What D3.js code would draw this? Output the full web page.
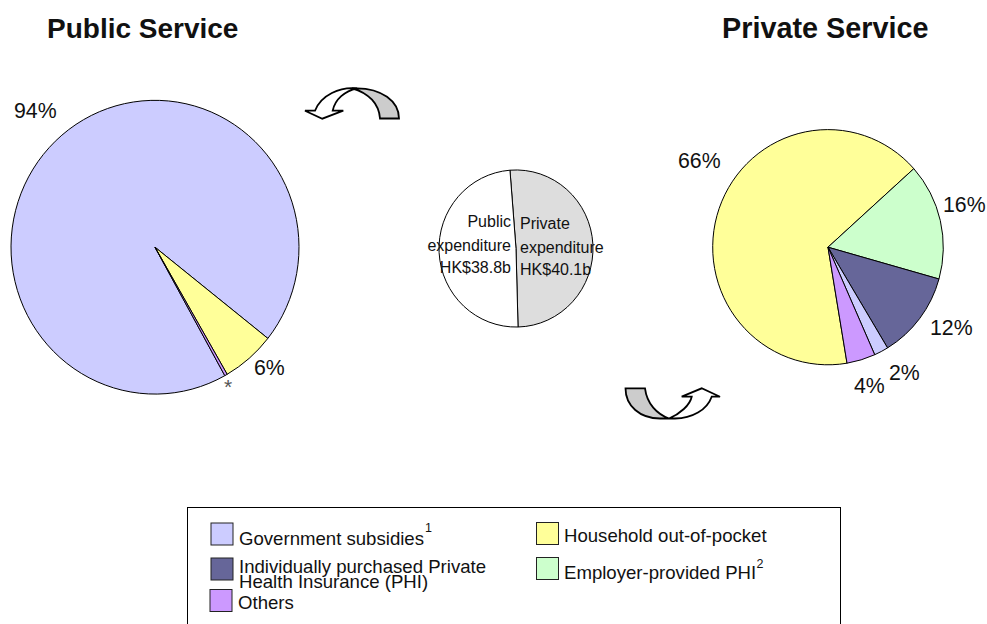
<!DOCTYPE html>
<html>
<head>
<meta charset="utf-8">
<script src="https://cdnjs.cloudflare.com/ajax/libs/d3/7.8.5/d3.min.js"></script>
<style>
html, body { margin: 0; padding: 0; background: #fff; overflow: hidden; }
text { font-family: "Liberation Sans", Arial, sans-serif; fill: #111; }
</style>
</head>
<body>
<svg id="chart" width="987" height="624"></svg>
<script>
// Financing shares (%) of each service sector
const publicCategories = ["Government subsidies", "Household out-of-pocket", "Others"];
const publicValues = [94, 6, 0.3];
const privateCategories = ["Household out-of-pocket", "Employer-provided PHI", "Individually purchased PHI", "Government subsidies", "Others"];
const privateValues = [66, 16, 12, 2, 4];

// Total health expenditure split, HK$ billion
const splitCategories = ["Private expenditure", "Public expenditure"];
const splitValues = [40.1, 38.8];

const colours = {
  "Government subsidies": "#ccccff",
  "Household out-of-pocket": "#ffff99",
  "Individually purchased PHI": "#666699",
  "Employer-provided PHI": "#ccffcc",
  "Others": "#cc99ff",
  "Private expenditure": "#dddddd",
  "Public expenditure": "#ffffff"
};

const svg = d3.select("#chart");
const deg = Math.PI / 180;
const stretchY = 1.02; // pies are drawn very slightly taller than wide

function drawPie(names, values, cx, cy, r, startDeg) {
  const pie = d3.pie().sort(null)
    .startAngle(startDeg * deg)
    .endAngle((startDeg + 360) * deg);
  const arc = d3.arc().innerRadius(0).outerRadius(r);
  svg.append("g").attr("transform", `translate(${cx},${cy}) scale(1,${stretchY})`)
    .selectAll("path").data(pie(values)).join("path")
    .attr("d", arc)
    .attr("fill", (d, i) => colours[names[i]])
    .attr("stroke", "#000")
    .attr("stroke-width", 1)
    .attr("stroke-linejoin", "round")
    .attr("vector-effect", "non-scaling-stroke");
}

drawPie(publicCategories, publicValues, 155, 247.2, 144, 151);
drawPie(privateCategories, privateValues, 828, 247.2, 115.3, 170.5);
drawPie(splitCategories, splitValues, 516, 248.5, 77, -4.5);

function label(x, y, str, size, opts = {}) {
  return svg.append("text")
    .attr("x", x).attr("y", y)
    .attr("font-size", size)
    .attr("font-weight", opts.weight || "normal")
    .attr("text-anchor", opts.anchor || "start")
    .style("fill", opts.fill || null)
    .text(str);
}

// Sector headings
label(47, 38, "Public Service", 28, { weight: "bold" });
label(722, 38, "Private Service", 28.8, { weight: "bold" });

// Share labels beside the two outer pies
label(14, 118, `${publicValues[0]}%`, 21.3);
label(254, 375, `${publicValues[1]}%`, 21.3);
label(224, 394, "*", 21, { fill: "#555" });
label(678, 168, `${privateValues[0]}%`, 21.3);
label(943, 212, `${privateValues[1]}%`, 21.3);
label(930, 335, `${privateValues[2]}%`, 21.3);
label(889, 380, `${privateValues[3]}%`, 21.3);
label(854, 393, `${privateValues[4]}%`, 21.3);

// Captions on the central pie
label(511, 227, "Public", 16, { anchor: "end" });
label(511, 251, "expenditure", 16, { anchor: "end" });
label(511, 273, `HK$${splitValues[1]}b`, 16, { anchor: "end" });
label(520, 229, "Private", 16);
label(520, 253, "expenditure", 16);
label(520, 275, `HK$${splitValues[0]}b`, 16);

// Curved flow arrows
const arrows = svg.append("g").attr("stroke", "#000").attr("stroke-width", 1.8).attr("stroke-linejoin", "miter");
arrows.append("path").attr("fill", "#cccccc")
  .attr("d", "M352 88.3 L357 88.3 C381 88.3 399 101 399 118.5 L380 118.5 C379 104 369 93 352 88.3 Z");
arrows.append("path").attr("fill", "#ffffff")
  .attr("d", "M357 88.3 C340 86.5 321 95 315 110.7 L305 110.7 L322.3 118.7 L343.3 110.7 L332.7 110.7 C335 99 345 91 357 88.3 Z");
arrows.append("path").attr("fill", "#cccccc")
  .attr("d", "M625.5 388.3 L645 388.3 C647 404 657 414 669 418.5 L660 418.5 C640 418.5 625.5 406 625.5 388.3 Z");
arrows.append("path").attr("fill", "#ffffff")
  .attr("d", "M669 418.5 C680 414 690 405 691.7 396.7 L681.7 396.7 L701.7 388.3 L720 396.7 L711.7 396.7 C707 410 692 418.5 675 418.5 Z");

// Legend
svg.append("rect").attr("x", 187.5).attr("y", 507.5).attr("width", 653).attr("height", 130)
  .attr("fill", "#fff").attr("stroke", "#000").attr("stroke-width", 1);

const legendKeys = ["Government subsidies", "Individually purchased PHI", "Others", "Household out-of-pocket", "Employer-provided PHI"];
const legendColumn = d3.scaleOrdinal().domain(legendKeys).range([211, 211, 210, 536.5, 536.5]);
const legendRow = d3.scaleOrdinal().domain(legendKeys).range([523, 558, 589.5, 522.5, 557.5]);
svg.append("g").selectAll("rect").data(legendKeys).join("rect")
  .attr("x", d => legendColumn(d)).attr("y", d => legendRow(d))
  .attr("width", 22).attr("height", 22)
  .attr("fill", d => colours[d])
  .attr("stroke", "#222").attr("stroke-width", 1);

label(239, 545, "Government subsidies", 18.6);
label(425, 532, "1", 12.5);
label(239, 573, "Individually purchased Private", 18.6);
label(239, 588, "Health Insurance (PHI)", 18.6);
label(238, 609, "Others", 18.6);
label(564, 542, "Household out-of-pocket", 18.6);
label(564, 579, "Employer-provided PHI", 18.6);
label(756.5, 568, "2", 12.5);
</script>
</body>
</html>
